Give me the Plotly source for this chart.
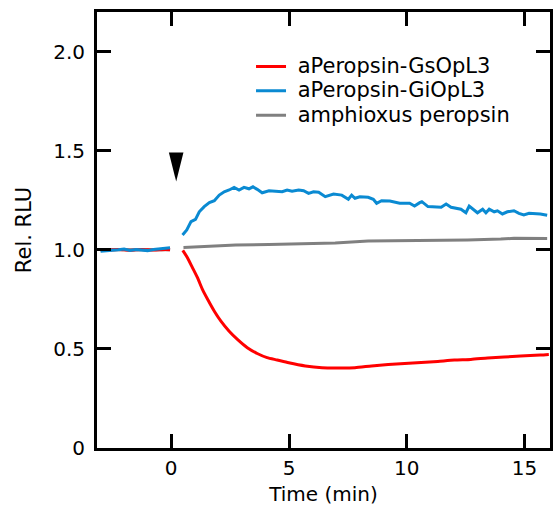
import plotly.graph_objects as go

# ---- data ----
pre_time = [-3.0, -2.75, -2.5, -2.25, -2.0, -1.75, -1.5, -1.25, -1.0, -0.75, -0.5, -0.25, -0.05]
gs_pre = [1.0, 0.998, 1.0, 1.002, 1.0, 0.998, 1.0, 1.002, 1.0, 0.999, 1.0, 1.002, 1.0]
gi_pre = [0.993, 0.995, 0.996, 1.0, 1.004, 0.997, 1.002, 1.0, 0.996, 1.002, 1.004, 1.006, 1.01]
amph_pre = [1.0, 1.0, 1.0, 1.0, 1.0, 1.0, 1.0, 1.0, 1.0, 1.0, 1.0, 1.0, 1.0]

gs_time = [0.49, 0.70, 0.91, 1.12, 1.33, 1.55, 1.83, 2.11, 2.46, 2.81, 3.23, 3.65, 4.07, 4.50,
           4.99, 5.69, 6.40, 7.10, 7.80, 8.50, 9.21, 9.91, 10.61, 11.32, 12.02, 12.72, 13.43,
           14.13, 14.83, 15.67, 16.03]
gs_vals = [0.997, 0.958, 0.908, 0.858, 0.799, 0.749, 0.690, 0.640, 0.589, 0.548, 0.506, 0.477,
           0.456, 0.444, 0.430, 0.414, 0.405, 0.404, 0.405, 0.414, 0.421, 0.427, 0.431, 0.437,
           0.444, 0.447, 0.454, 0.459, 0.464, 0.469, 0.472]

gi_time = [0.48, 0.66, 0.84, 1.03, 1.19, 1.40, 1.62, 1.83, 2.04, 2.25, 2.46, 2.67, 2.88, 3.09,
           3.30, 3.47, 3.65, 3.86, 4.15, 4.43, 4.71, 4.92, 5.13, 5.41, 5.62, 5.83, 6.04, 6.26,
           6.54, 6.89, 7.24, 7.52, 7.66, 7.80, 8.01, 8.36, 8.58, 8.72, 8.93, 9.28, 9.70, 10.12,
           10.33, 10.55, 10.64, 10.90, 11.18, 11.46, 11.67, 11.88, 12.30, 12.51, 12.65, 12.87,
           13.00, 13.22, 13.36, 13.50, 13.71, 13.85, 14.06, 14.27, 14.55, 14.76, 14.97, 15.19,
           15.40, 15.67, 15.96]
gi_vals = [1.075, 1.10, 1.142, 1.154, 1.192, 1.218, 1.238, 1.248, 1.276, 1.293, 1.302, 1.315,
           1.302, 1.315, 1.308, 1.318, 1.305, 1.288, 1.298, 1.296, 1.293, 1.302, 1.296, 1.302,
           1.298, 1.285, 1.293, 1.291, 1.268, 1.281, 1.276, 1.255, 1.276, 1.260, 1.268, 1.265,
           1.255, 1.235, 1.248, 1.246, 1.235, 1.235, 1.221, 1.238, 1.243, 1.218, 1.218, 1.215,
           1.231, 1.215, 1.205, 1.187, 1.221, 1.197, 1.187, 1.205, 1.187, 1.205, 1.192, 1.197,
           1.181, 1.192, 1.197, 1.184, 1.176, 1.184, 1.184, 1.181, 1.174]

amph_time = [0.52, 1.33, 2.74, 4.15, 5.55, 6.96, 8.36, 9.77, 11.18, 12.58, 13.99, 14.55, 15.96]
amph_vals = [1.012, 1.017, 1.024, 1.027, 1.032, 1.035, 1.044, 1.045, 1.049, 1.050, 1.054, 1.058, 1.057]

series_names = ["aPeropsin-GsOpL3", "aPeropsin-GiOpL3", "amphioxus peropsin"]
series_colors = ["#FF0000", "#0A8AD2", "#808080"]

x_ticks = [0, 5, 10, 15]
y_ticks = [0, 0.5, 1.0, 1.5, 2.0]
y_tick_labels = ["0", "0.5", "1.0", "1.5", "2.0"]

stim_time = 0.21          # light stimulus marker (arrowhead)
stim_top, stim_tip = 1.491, 1.345
stim_half_width = 0.31

FONT = "DejaVu Sans"
LEGEND_TEXT_SIZE = 21


def legend_label(name):
    return f'<span style="font-size:{LEGEND_TEXT_SIZE}px">\u00a0{name}</span>'


fig = go.Figure()


def seg(pre_t, pre_v, t, v):
    return pre_t + [None] + t, pre_v + [None] + v


x_a, y_a = seg(pre_time, amph_pre, amph_time, amph_vals)
x_g, y_g = seg(pre_time, gs_pre, gs_time, gs_vals)
x_i, y_i = seg(pre_time, gi_pre, gi_time, gi_vals)

fig.add_trace(go.Scatter(x=x_a, y=y_a, mode="lines", name=legend_label(series_names[2]),
                         line=dict(color=series_colors[2], width=3), legendrank=3))
fig.add_trace(go.Scatter(x=x_g, y=y_g, mode="lines", name=legend_label(series_names[0]),
                         line=dict(color=series_colors[0], width=3, shape="spline", smoothing=0.6),
                         legendrank=1))
fig.add_trace(go.Scatter(x=x_i, y=y_i, mode="lines", name=legend_label(series_names[1]),
                         line=dict(color=series_colors[1], width=3), legendrank=2))

fig.add_shape(type="path", xref="x", yref="y",
              path=f"M {stim_time - stim_half_width},{stim_top} L {stim_time + stim_half_width},{stim_top} "
                   f"L {stim_time},{stim_tip} Z",
              fillcolor="black", line=dict(width=0))

axis_common = dict(showline=True, linecolor="black", linewidth=3, mirror="ticks",
                   ticks="inside", ticklen=14, tickwidth=3, tickcolor="black",
                   showgrid=False, zeroline=False,
                   tickfont=dict(family=FONT, size=20, color="black"))

fig.update_xaxes(range=[-3.151, 16.08], tickvals=x_ticks,
                 title=dict(text="Time (min)", font=dict(family=FONT, size=20, color="black"), standoff=8),
                 **axis_common)
fig.update_yaxes(range=[0, 2.2], tickvals=y_ticks, ticktext=y_tick_labels, ticklabelstandoff=5,
                 title=dict(text="Rel. RLU", font=dict(family=FONT, size=21, color="black"), standoff=16),
                 **axis_common)

fig.update_layout(
    width=553, height=513,
    margin=dict(l=97, r=0, t=12, b=65),
    plot_bgcolor="white", paper_bgcolor="white",
    font=dict(family=FONT, size=20, color="black"),
    legend=dict(x=0.34, y=0.9147, xanchor="left", yanchor="top",
                bgcolor="rgba(0,0,0,0)", font=dict(family=FONT, size=16.5, color="black"),
                tracegroupgap=0),
    showlegend=True,
)

fig.write_html("out.html", config={"displayModeBar": False},
               post_script="document.body.style.margin='0';")
